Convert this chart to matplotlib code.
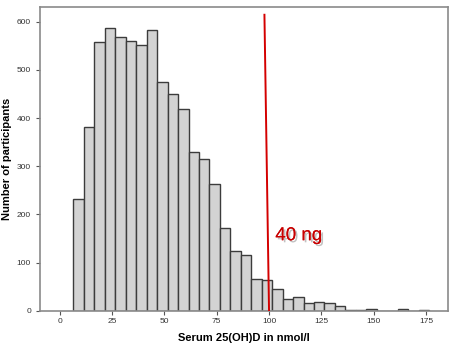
import numpy as np
import matplotlib
matplotlib.use("Agg")
import matplotlib.pyplot as plt
import matplotlib.patheffects as pe

plt.rcParams['font.family'] = ['Liberation Sans', 'DejaVu Sans']

# histogram of serum 25(OH)D, 5 nmol/l bins
bin_start = 6.5
bin_width = 5
counts = [232, 382, 557, 586, 568, 559, 551, 582, 474, 449, 418, 329, 315,
          264, 171, 124, 117, 67, 64, 46, 24, 28, 16, 19, 17, 10, 3, 3, 5,
          1, 1, 4, 1, 2]
xticks = [0, 25, 50, 75, 100, 125, 150, 175]
yticks = [0, 100, 200, 300, 400, 500, 600]
cutoff_line_x = [97.8, 100]
cutoff_line_y = [614, 0]

edges = bin_start + bin_width * np.arange(len(counts))

fig = plt.figure(figsize=(4.56, 3.52), dpi=100)
ax = fig.add_axes([0.0877, 0.1165, 0.8945, 0.8635])

ax.bar(edges, counts, width=bin_width, align='edge', color='#d3d3d3',
       edgecolor='#3c3c3c', linewidth=1.0, zorder=2)

ax.plot(cutoff_line_x, cutoff_line_y, color='#d40000', linewidth=1.4, zorder=3)
ax.text(103, 156, '40 ng', color='#c80000', fontsize=13.5, va='center', ha='left',
        path_effects=[pe.withSimplePatchShadow(offset=(1.5, -1.5), shadow_rgbFace='#999999', alpha=0.6),
                      pe.Normal()], zorder=4)

ax.set_xlim(-9.5, 185.5)
ax.set_ylim(0, 630)
ax.set_xticks(xticks)
ax.set_yticks(yticks)
ax.tick_params(axis='both', labelsize=6, colors='#555555', length=3, width=0.8,
               direction='out', labelcolor='#333333')
ax.tick_params(axis='x', pad=2)
for s in ax.spines.values():
    s.set_color('#8a8a8a')
    s.set_linewidth(1.2)

ax.set_xlabel('Serum 25(OH)D in nmol/l', fontsize=8, fontweight='bold')
ax.set_ylabel('Number of participants', fontsize=8, fontweight='bold')
ax.xaxis.set_label_coords(0.5, -0.072)
ax.yaxis.set_label_coords(-0.069, 0.5)

fig.savefig('out.png', dpi=100)
